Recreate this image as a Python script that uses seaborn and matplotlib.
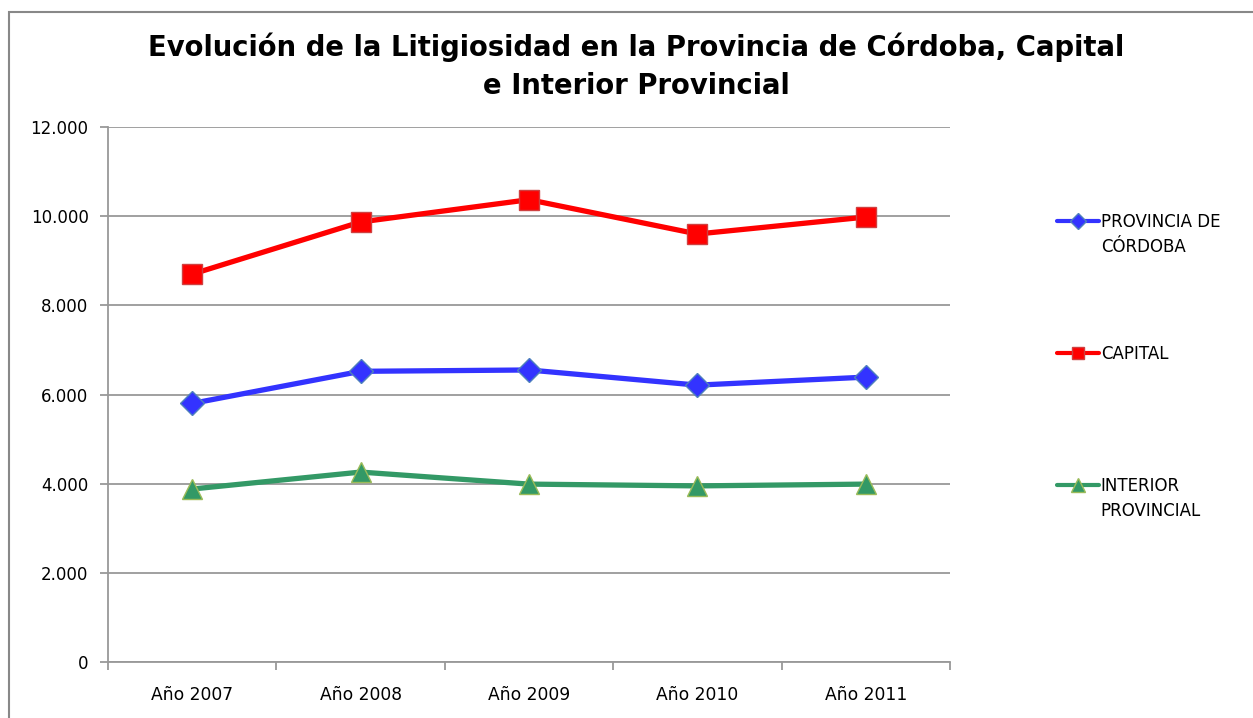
import matplotlib
matplotlib.use("Agg")
import matplotlib.pyplot as plt
import matplotlib.patches as mpatches
import seaborn as sns
import pandas as pd
import numpy as np

years = ["Año 2007", "Año 2008", "Año 2009", "Año 2010", "Año 2011"]
provincia = [5800, 6520, 6550, 6210, 6390]
capital = [8700, 9870, 10370, 9600, 9980]
interior = [3880, 4260, 3990, 3950, 3990]
series_names = ["PROVINCIA DE CÓRDOBA", "CAPITAL", "INTERIOR PROVINCIAL"]
yticks = [0, 2000, 4000, 6000, 8000, 10000, 12000]
ytick_labels = ["0", "2.000", "4.000", "6.000", "8.000", "10.000", "12.000"]

sns.set_style("white")
plt.rcParams["font.family"] = ["DejaVu Sans"]
plt.rcParams["text.color"] = "black"

rows = []
for name, vals in zip(series_names, [provincia, capital, interior]):
    for i, v in enumerate(vals):
        rows.append({"idx": i, "value": v, "serie": name})
df = pd.DataFrame(rows)

palette = {series_names[0]: "#3333FF", series_names[1]: "#FF0000", series_names[2]: "#339966"}
markers = {series_names[0]: "D", series_names[1]: "s", series_names[2]: "^"}
msizes = {series_names[0]: 12.5, series_names[1]: 14, series_names[2]: 14.5}
leg_msizes = {series_names[0]: 8, series_names[1]: 9, series_names[2]: 9.5}
edges = {series_names[0]: "#4F81BD", series_names[1]: "#D04040", series_names[2]: "#9BBB59"}

fig = plt.figure(figsize=(12.53, 7.18), dpi=100)
ax = fig.add_axes([108/1253, 1-662/718, (950-108)/1253, (662-127)/718])

for name in series_names:
    sub = df[df["serie"] == name]
    sns.lineplot(data=sub, x="idx", y="value", ax=ax, color=palette[name],
                 marker=markers[name], markersize=msizes[name],
                 markeredgecolor=edges[name], markeredgewidth=1.0,
                 linewidth=3.8, label=name, legend=False)

ax.set_xlim(-0.5, 4.5)
ax.set_ylim(0, 12000)
ax.set_yticks(yticks)
ax.set_yticklabels(ytick_labels)
ax.set_xticks(range(len(years)))
ax.set_xticklabels(years)
ax.set_xticks(np.arange(-0.5, 5.0, 1.0), minor=True)
ax.set_xlabel("")
ax.set_ylabel("")
ax.grid(axis="y", color="#999999", linewidth=1.3)
ax.set_axisbelow(True)
for s in ["top", "right"]:
    ax.spines[s].set_visible(False)
for s in ["left", "bottom"]:
    ax.spines[s].set_color("#999999")
    ax.spines[s].set_linewidth(1.3)
ax.tick_params(axis="y", which="major", length=6, width=1.3, color="#999999",
               direction="out", left=True, labelsize=12, pad=8, labelcolor="black")
ax.tick_params(axis="x", which="major", length=0, labelsize=12.3, pad=17, labelcolor="black")
ax.tick_params(axis="x", which="minor", length=6, width=1.3, color="#999999",
               direction="out", bottom=True)

fig.suptitle("Evolución de la Litigiosidad en la Provincia de Córdoba, Capital\ne Interior Provincial",
             x=0.508, y=1-33/718, fontsize=19.8, fontweight="heavy", linespacing=1.45,
             va="top", color="black")

# outer chart frame
fig.patches.append(mpatches.Rectangle((9/1253, -0.05), 1.2, 1-12/718+0.05,
                                      transform=fig.transFigure, fill=False,
                                      edgecolor="#888888", linewidth=1.5))

handles, _ = ax.get_legend_handles_labels()
first_lines = ["PROVINCIA DE", "CAPITAL", "INTERIOR"]
second_lines = ["CÓRDOBA", None, "PROVINCIAL"]
leg = fig.legend(handles, first_lines, loc="upper left",
                 bbox_to_anchor=(1057/1253, 1-213/718), frameon=False,
                 fontsize=12, handlelength=2.5, handletextpad=0.12,
                 labelspacing=6.85, borderpad=0, borderaxespad=0)
for h, name in zip(leg.legend_handles, series_names):
    h.set_markersize(leg_msizes[name])
    h.set_linewidth(3.0)
fig.canvas.draw()
renderer = fig.canvas.get_renderer()
inv = fig.transFigure.inverted()
for t, extra in zip(leg.get_texts(), second_lines):
    if extra is None:
        continue
    bb = t.get_window_extent(renderer)
    x0, y0 = inv.transform((bb.x0, bb.y0))
    fig.text(x0, y0 - 25/718, extra, fontsize=12, ha="left", va="bottom")

fig.savefig("out.png", dpi=100)
